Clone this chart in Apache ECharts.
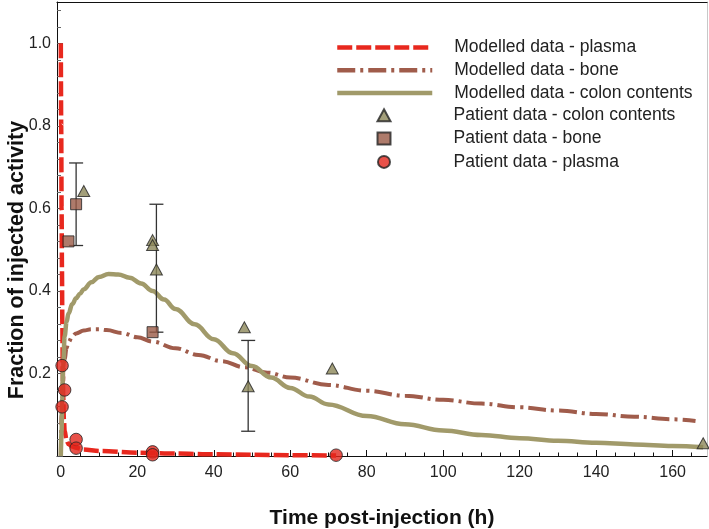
<!DOCTYPE html>
<html>
<head>
<meta charset="utf-8">
<script src="https://cdn.jsdelivr.net/npm/echarts@6/dist/echarts.min.js"></script>
<style>
html,body{margin:0;padding:0;background:#fff;}
#chart{width:709px;height:529px;}
</style>
</head>
<body>
<div id="chart"></div>
<script>
// ---- data (hours, fraction of injected activity) ----
const plasmaModel = [[0,1.0],[0.1,0.8],[0.2,0.6],[0.3,0.45],[0.4,0.32],[0.5,0.22],[0.6,0.15],[0.8,0.09],[1,0.06],[1.5,0.038],[2,0.029],[3,0.023],[4,0.02],[6,0.016],[10,0.012],[20,0.008],[30,0.006],[40,0.004],[50,0.003],[60,0.002],[72,0.001]];
const boneModel = [[0,0],[0.2,0.1],[0.5,0.18],[1,0.235],[1.5,0.262],[2,0.276],[3,0.29],[4,0.297],[6,0.304],[8,0.307],[10,0.307],[12,0.305],[16,0.298],[20,0.288],[24,0.277],[30,0.261],[36,0.245],[42,0.23],[48,0.215],[54,0.202],[60,0.19],[70,0.172],[80,0.158],[90,0.146],[100,0.136],[110,0.127],[120,0.118],[130,0.11],[140,0.102],[150,0.095],[160,0.089],[166,0.085]];
const colonModel = [[0,0],[0.2,0.06],[0.35,0.136],[0.6,0.216],[1,0.29],[1.5,0.325],[2,0.345],[3,0.368],[4,0.382],[5,0.393],[6,0.404],[8,0.421],[10,0.434],[12.5,0.441],[15,0.44],[18,0.432],[21,0.418],[24,0.4],[27,0.379],[30,0.356],[35,0.319],[40,0.283],[45,0.249],[50,0.218],[55,0.19],[60,0.165],[65,0.144],[70,0.125],[80,0.097],[90,0.077],[100,0.062],[110,0.051],[120,0.043],[130,0.037],[140,0.032],[150,0.028],[160,0.024],[168,0.021]];
const colonPatient = [[6,0.642],[24,0.523],[24,0.511],[25,0.452],[48,0.312],[49,0.169],[71,0.212],[168,0.031]];
const bonePatient = [[2,0.52],[4,0.61],[24,0.30]];
const plasmaPatient = [[0.33,0.219],[1,0.16],[0.33,0.119],[4,0.04],[4,0.019],[24,0.01],[24,0.003],[72,0.002]];
// error bars: [x, low, high]
const errorBars = [[4,0.51,0.71],[25,0.30,0.61],[49,0.06,0.28]];

const modelNames = ['Modelled data - plasma','Modelled data - bone','Modelled data - colon contents'];
const patientNames = ['Patient data - colon contents','Patient data - bone','Patient data - plasma'];
const xTicksMajor = [0,20,40,60,80,100,120,140,160];
const xTicksMinor = [5,10,15,25,30,35,45,50,55,65,70,75,85,90,95,105,110,115,125,130,135,145,150,155,165];
const yTicksMajor = [0,0.2,0.4,0.6,0.8,1.0];
const yLabels = [0.2,0.4,0.6,0.8,1.0];
const yTicksMinor = [0.04,0.08,0.12,0.16,0.24,0.28,0.32,0.36,0.44,0.48,0.52,0.56,0.64,0.68,0.72,0.76,0.84,0.88,0.92,0.96,1.04,1.08];

const FONT = "'Liberation Sans', Arial, sans-serif";
const RED = '#e8281e', BROWN = '#a05c4b', OLIVE = '#a19a6a';

const chart = echarts.init(document.getElementById('chart'), null, {renderer:'canvas'});
const X_MIN = -1, X_MAX = 169, Y_MIN = 0, Y_MAX = 1.1;

const legendText = {fontSize: 17.5, color: '#222', fontFamily: FONT};
const option = {
  animation: false,
  backgroundColor: '#fff',
  textStyle: {fontFamily: FONT},
  grid: {left: 57, right: 2, top: 2, bottom: 73, containLabel: false, outerBoundsMode: 'none'},
  legend: [
    {left: 335, top: 38.5, orient: 'vertical', padding: 0,
     itemWidth: 95, itemHeight: 13, itemGap: 4.8,
     data: modelNames.map(n => ({name: n, itemStyle: {color: 'rgba(0,0,0,0)', borderWidth: 0, opacity: 0}})),
     textStyle: Object.assign({padding: [0,0,0,17]}, legendText),
     lineStyle: {width: 4.5},
     selectedMode: false},
    {left: 376.5, top: 38.5 + 3 * 22.6, orient: 'vertical', padding: 0,
     itemWidth: 13, itemHeight: 12, itemGap: 5.3,
     data: patientNames,
     textStyle: Object.assign({padding: [0,0,0,58]}, legendText),
     selectedMode: false}
  ],
  xAxis: [
    {type:'value', min:X_MIN, max:X_MAX, position:'bottom',
     axisLine:{show:true, onZero:false, lineStyle:{color:'#111', width:1}},
     axisTick:{show:true, inside:true, length:6, customValues:xTicksMajor, lineStyle:{color:'#111'}},
     axisLabel:{customValues:xTicksMajor, fontSize:16, color:'#222', margin:9, fontFamily:FONT},
     splitLine:{show:false},
     name:'Time post-injection (h)', nameLocation:'middle', nameGap:52,
     nameTextStyle:{fontSize:21, fontWeight:'bold', color:'#111', fontFamily:FONT}},
    {type:'value', min:X_MIN, max:X_MAX, position:'bottom',
     axisLine:{show:false, onZero:false}, axisLabel:{show:false}, splitLine:{show:false},
     axisTick:{show:true, inside:true, length:3.5, customValues:xTicksMinor, lineStyle:{color:'#111'}}},
    {type:'value', min:X_MIN, max:X_MAX, position:'top',
     axisLine:{show:true, onZero:false, lineStyle:{color:'#111', width:1.2}}, axisLabel:{show:false}, axisTick:{show:false}, splitLine:{show:false}}
  ],
  yAxis: [
    {type:'value', min:Y_MIN, max:Y_MAX, position:'left',
     axisLine:{show:true, onZero:false, lineStyle:{color:'#111', width:1}},
     axisTick:{show:true, inside:true, length:6, customValues:yTicksMajor, lineStyle:{color:'#555'}},
     axisLabel:{customValues:yLabels, fontSize:16, color:'#222', margin:6, fontFamily:FONT,
                formatter: v => v.toFixed(1)},
     splitLine:{show:false},
     name:'Fraction of injected activity', nameLocation:'middle', nameGap:29, nameRotate:90,
     nameMoveOverlap:false,
     nameTextStyle:{fontSize:21.5, fontWeight:'bold', color:'#111', fontFamily:FONT, padding:[0,62,0,0]}},
    {type:'value', min:Y_MIN, max:Y_MAX, position:'left',
     axisLine:{show:false, onZero:false}, axisLabel:{show:false}, splitLine:{show:false},
     axisTick:{show:true, inside:true, length:4, customValues:yTicksMinor, lineStyle:{color:'#666'}}},
    {type:'value', min:Y_MIN, max:Y_MAX, position:'right',
     axisLine:{show:true, onZero:false, lineStyle:{color:'#c8c8c8', width:1}}, axisLabel:{show:false}, axisTick:{show:false}, splitLine:{show:false}}
  ],
  series: [
    {name: modelNames[0], type:'line', data: plasmaModel, symbol:'none', smooth:0.3, smoothMonotone:'x', z:2,
     lineStyle:{color:RED, width:4.5, type:[15,4]}, itemStyle:{color:RED}},
    {name: modelNames[1], type:'line', data: boneModel, symbol:'none', smooth:0.4, smoothMonotone:'x', z:2,
     lineStyle:{color:BROWN, width:4, type:[18,5,3,5]}, itemStyle:{color:BROWN}},
    {name: modelNames[2], type:'line', data: colonModel, symbol:'none', smooth:0.4, smoothMonotone:'x', z:2,
     lineStyle:{color:OLIVE, width:4.5}, itemStyle:{color:OLIVE}},
    {name:'errorbars', type:'custom', z:3, silent:true,
     data: errorBars,
     renderItem: function(params, api){
       const x = api.value(0), lo = api.value(1), hi = api.value(2);
       const pLo = api.coord([x, lo]), pHi = api.coord([x, hi]);
       const w = 7;
       const st = {stroke:'#333', lineWidth:1.3};
       return {type:'group', children:[
         {type:'line', shape:{x1:pLo[0], y1:pLo[1], x2:pHi[0], y2:pHi[1]}, style:st},
         {type:'line', shape:{x1:pLo[0]-w, y1:pLo[1], x2:pLo[0]+w, y2:pLo[1]}, style:st},
         {type:'line', shape:{x1:pHi[0]-w, y1:pHi[1], x2:pHi[0]+w, y2:pHi[1]}, style:st}
       ]};
     }},
    {name: patientNames[0], type:'scatter', data: colonPatient, symbol:'triangle', symbolSize:[12,11], z:4,
     itemStyle:{color:'#8c8759', borderColor:'#222', borderWidth:1}},
    {name: patientNames[1], type:'scatter', data: bonePatient, symbol:'rect', symbolSize:11, z:4,
     itemStyle:{color:'#9a5a46', borderColor:'#222', borderWidth:1}},
    {name: patientNames[2], type:'scatter', data: plasmaPatient, symbol:'circle', symbolSize:12.5, z:5,
     itemStyle:{color:'#e2261b', borderColor:'#222', borderWidth:1}}
  ]
};
chart.setOption(option);
</script>
</body>
</html>
